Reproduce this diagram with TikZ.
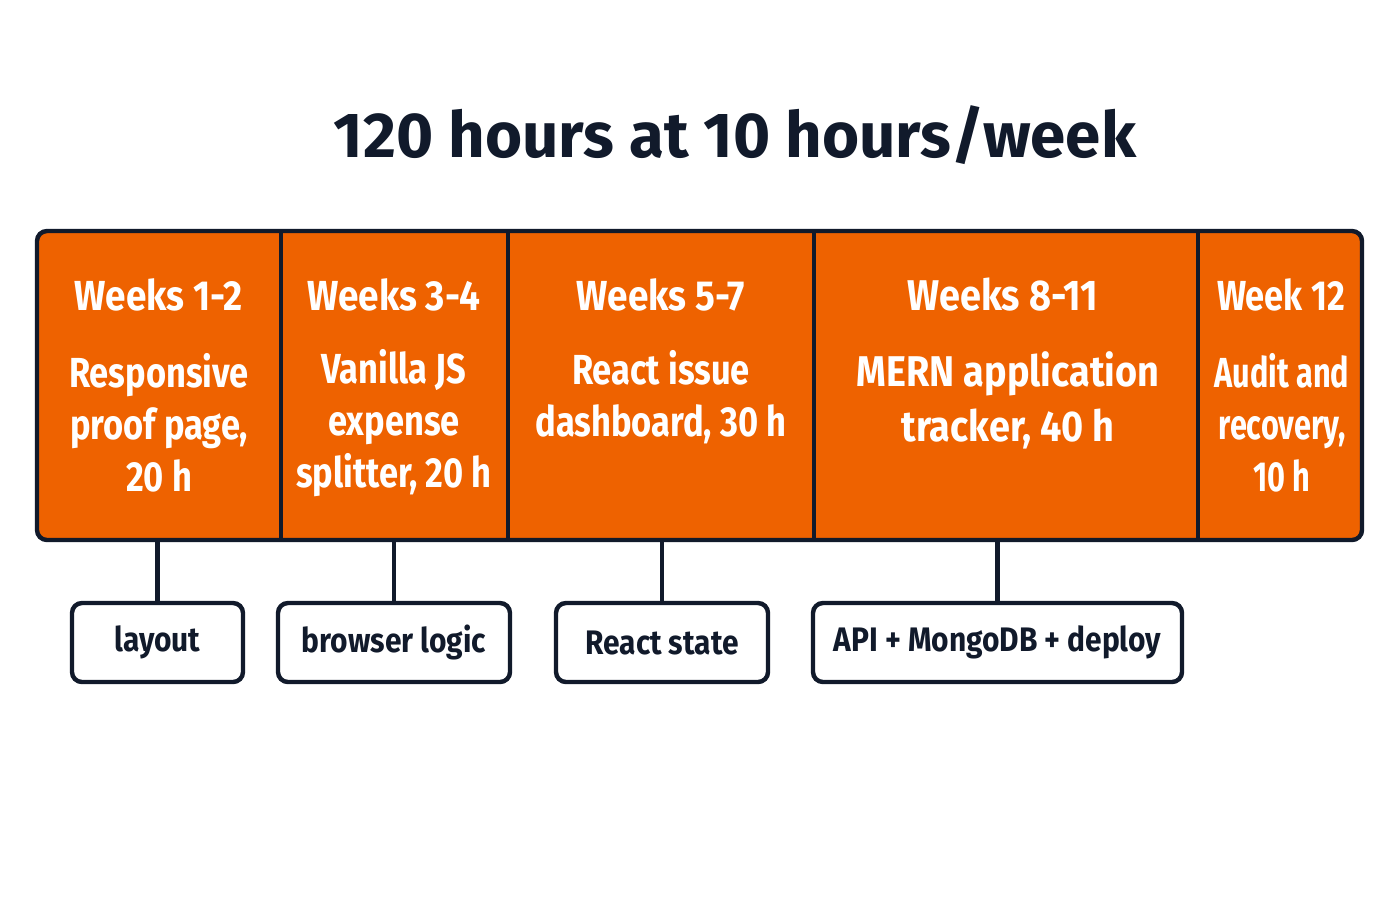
\documentclass[tikz,border=0pt]{standalone}
\usepackage{fontspec}
\setmainfont{Fira Sans}[FakeStretch=0.88]
\newfontfamily\titlefont{Fira Sans}
\newfontfamily\condfont{Fira Sans}[FakeStretch=0.82]
\newfontfamily\tightfont{Fira Sans}[FakeStretch=0.73]
\usetikzlibrary{positioning}
\definecolor{barorange}{HTML}{EE6200}
\definecolor{dkink}{HTML}{111A2B}

\begin{document}
\begin{tikzpicture}[x=0.5pt, y=-0.5pt,
    rule/.style = {draw=dkink, line width=2.2pt},
    head/.style = {text=white, inner sep=0pt, font=\bfseries\fontsize{21}{25}\selectfont},
    task/.style = {text=white, inner sep=0pt, align=center, font=\condfont\bfseries\fontsize{21}{26}\selectfont},
    tag/.style = {draw=dkink, line width=2.2pt, rounded corners=5pt, fill=white, minimum height=39.5pt, text=dkink, font=\bfseries\fontsize{17}{20}\selectfont}]
    \useasboundingbox[fill=white] (0,0) rectangle (1400,900);

    \node[text=dkink, font=\titlefont\bfseries\fontsize{31.8}{38}\selectfont] (title) at (735,135) {120 hours at 10 hours/week};

    % the bar and its dividers
    \node[rule, fill=barorange, rounded corners=5pt, minimum width=662.5pt, minimum height=154.5pt] (bar) at (699.5,385.5) {};
    \draw[rule] (281,231) -- (281,540);
    \draw[rule] (508,231) -- (508,540);
    \draw[rule] (814,231) -- (814,540);
    \draw[rule] (1198,231) -- (1198,540);

    \node[head] (wk12) at (159,295) {Weeks 1-2};
    \node[task] (task12) at (159,423) {Responsive\\proof page,\\20 h};
    \node[head] (wk34) at (394,295) {Weeks 3-4};
    \node[task] (task34) at (394,423) {Vanilla JS\\expense\\splitter, 20 h};
    \node[head] (wk57) at (661,295) {Weeks 5-7};
    \node[task] (task57) at (661,397) {React issue\\dashboard, 30 h};
    \node[head, font=\bfseries\fontsize{21.5}{25}\selectfont] (wk811) at (1003,295) {Weeks 8-11};
    \node[task, font=\bfseries\fontsize{21.5}{27.5}\selectfont] (task811) at (1008,400) {MERN application\\tracker, 40 h};
    \node[head, font=\condfont\bfseries\fontsize{21}{25}\selectfont] (wk12b) at (1281,295) {Week 12};
    \node[task, font=\tightfont\bfseries\fontsize{21}{26}\selectfont] (task12b) at (1282,423) {Audit and\\recovery,\\10 h};

    % skill tags below
    \node[tag, minimum width=85.5pt] (layout) at (157.5,642.5) {layout};
    \node[tag, minimum width=116pt] (logic) at (394,642.5) {browser logic};
    \node[tag, minimum width=106pt] (state) at (662,642.5) {React state};
    \node[tag, minimum width=184.5pt] (stack) at (997.5,642.5) {API + MongoDB + deploy};

    \draw[rule] (layout.north) -- (layout.north |- bar.south);
    \draw[rule] (logic.north) -- (logic.north |- bar.south);
    \draw[rule] (state.north) -- (state.north |- bar.south);
    \draw[rule] (stack.north) -- (stack.north |- bar.south);
\end{tikzpicture}
\end{document}
